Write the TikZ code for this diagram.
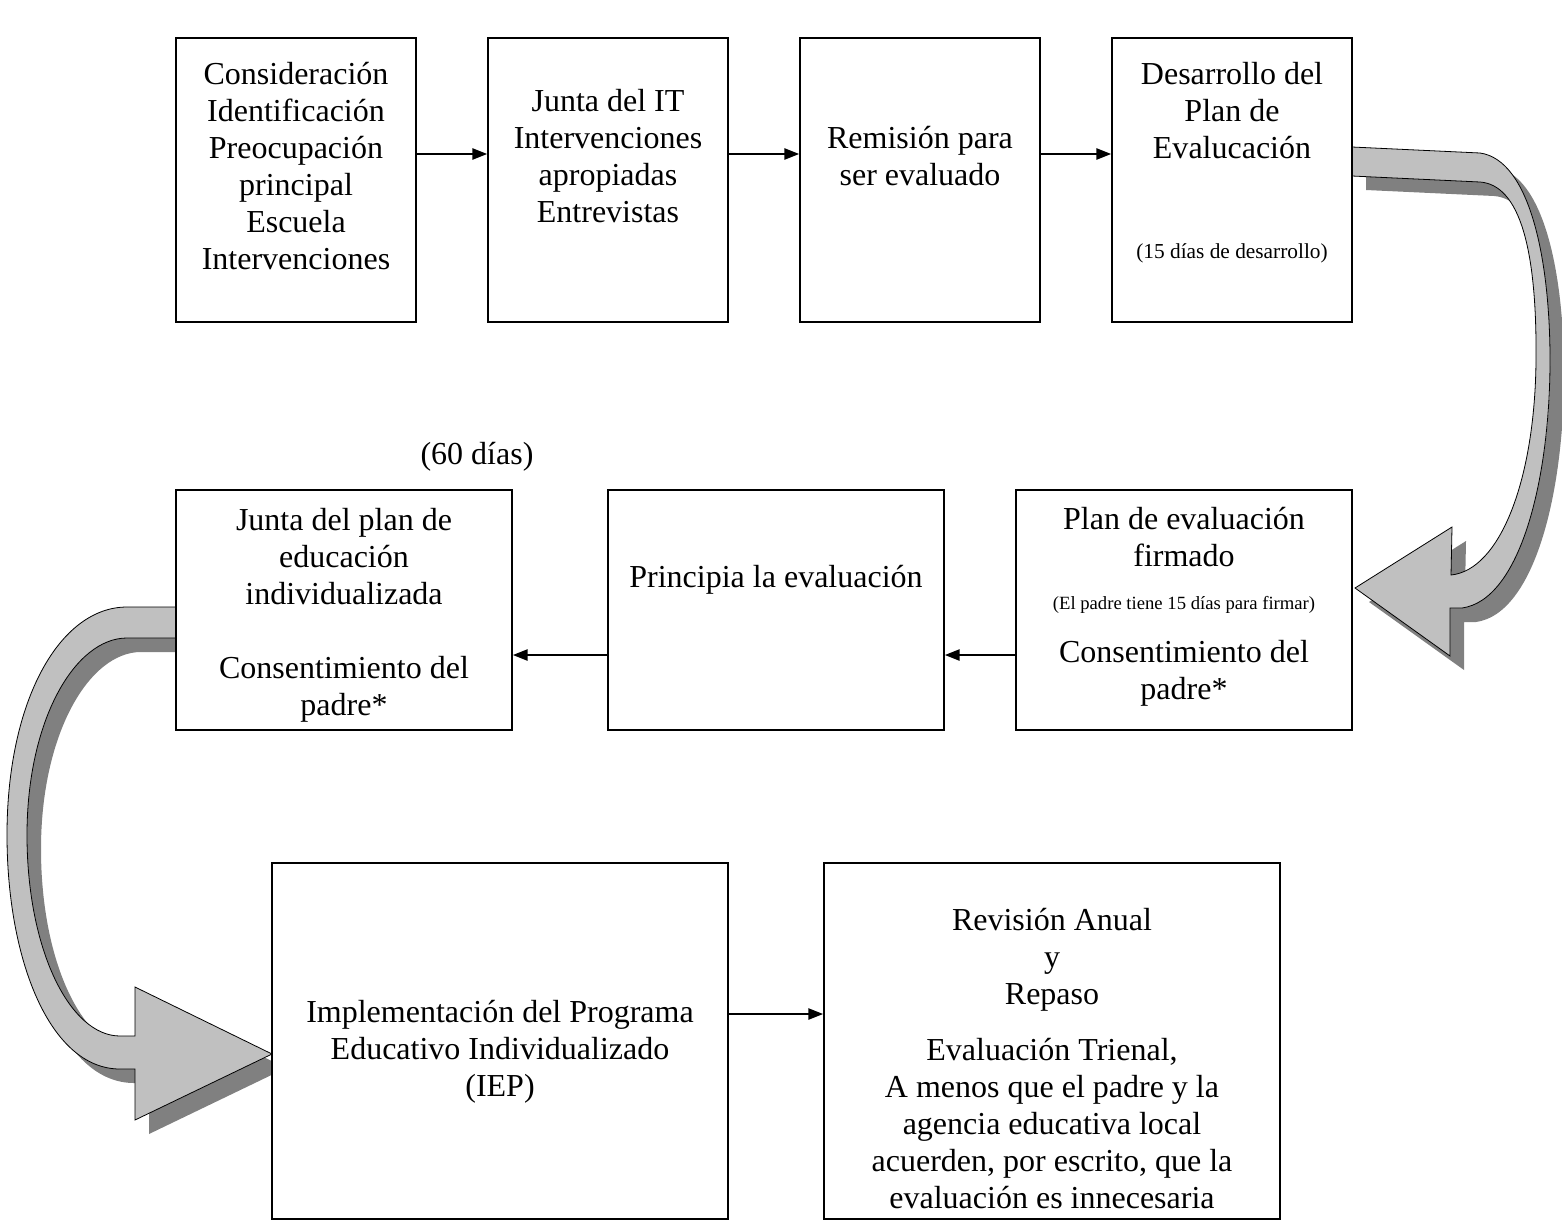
\documentclass[tikz,border=0pt]{standalone}
\usepackage{fontspec}
\setmainfont{Liberation Serif}
\usetikzlibrary{arrows.meta,fit}
\definecolor{bandgray}{HTML}{C0C0C0}
\definecolor{shadowgray}{HTML}{808080}
\begin{document}
\begin{tikzpicture}[x=0.75pt,y=-0.75pt,
  box/.style={draw, line width=1.4pt, fill=white, inner sep=0pt},
  txt/.style={align=center, inner sep=0pt, anchor=north, font=\fontsize{24pt}{27.75pt}\selectfont},
  smalltxt/.style={inner sep=0pt, anchor=base, font=\fontsize{16pt}{19pt}\selectfont},
  tinytxt/.style={inner sep=0pt, anchor=base, font=\fontsize{14pt}{17pt}\selectfont},
  conn/.style={line width=1pt, -{Triangle[length=11pt,width=8.5pt]}},
  band/.style={fill=bandgray, draw=black, line width=0.6pt},
  bandshadow/.style={fill=shadowgray, draw=none}
]
\useasboundingbox (0,0) rectangle (1562,1228);

% ---------- curved arrow shapes ----------
\def\rightarrowpath{(1352,147) -- (1480,153) .. controls (1530,160) and (1550,260) .. (1550,360)
  .. controls (1550,480) and (1520,600) .. (1462,608) -- (1450,608) -- (1450,656) -- (1355,588)
  -- (1452,527) -- (1451,575) .. controls (1500,570) and (1535,480) .. (1536,360)
  .. controls (1537,250) and (1520,185) .. (1480,182) -- (1352,176) -- cycle}
\def\leftarrowpath{(176,607) -- (127,607) .. controls (60,607) and (7,700) .. (7,835)
  .. controls (7,960) and (50,1069) .. (120,1069) -- (135,1069) -- (135,1120) -- (272,1054)
  -- (135,987) -- (135,1036) -- (120,1036) .. controls (70,1036) and (27,950) .. (27,835)
  .. controls (27,720) and (75,638) .. (127,638) -- (176,638) -- cycle}

\begin{scope}[shift={(14,14)}]
  \path[bandshadow] \rightarrowpath;
  \path[bandshadow] \leftarrowpath;
\end{scope}
\path[band] \rightarrowpath;
\path[band] \leftarrowpath;

% ---------- boxes ----------
\node[box, fit={(176,38) (416,322)}] (A) {};
\node[box, fit={(488,38) (728,322)}] (B) {};
\node[box, fit={(800,38) (1040,322)}] (C) {};
\node[box, fit={(1112,38) (1352,322)}] (D) {};
\node[box, fit={(176,490) (512,730)}] (E) {};
\node[box, fit={(608,490) (944,730)}] (F) {};
\node[box, fit={(1016,490) (1352,730)}] (G) {};
\node[box, fit={(272,863) (728,1219)}] (H) {};
\node[box, fit={(824,863) (1280,1219)}] (I) {};

% ---------- texts ----------
\node[txt] (At) at (296,58) {\strut Consideración\\Identificación\\Preocupación\\principal\\Escuela\\Intervenciones};
\node[txt] (Bt) at (608,85) {\strut Junta del IT\\Intervenciones\\apropiadas\\Entrevistas};
\node[txt] (Ct) at (920,122) {\strut Remisión para\\ser evaluado};
\node[txt] (Dt) at (1232,58) {\strut Desarrollo del\\Plan de\\Evalucación};
\node[smalltxt] (Ds) at (1232,258) {(15 días de desarrollo)};

\node[txt] (sixty) at (477,438) {\strut (60 días)};
\node[txt] (Et) at (344,504) {\strut Junta del plan de\\educación\\individualizada\\\mbox{}\\Consentimiento del\\padre*};
\node[txt] (Ft) at (776,561) {\strut Principia la evaluación};
\node[txt] (Gt) at (1184,503) {\strut Plan de evaluación\\firmado};
\node[tinytxt] (Gs) at (1184,609) {(El padre tiene 15 días para firmar)};
\node[txt] (Gu) at (1184,636) {\strut Consentimiento del\\padre*};

\node[txt] (Ht) at (500,996) {\strut Implementación del Programa\\Educativo Individualizado\\(IEP)};
\node[txt] (It) at (1052,904) {\strut Revisión Anual\\y\\Repaso};
\node[txt] (Iu) at (1052,1034) {\strut Evaluación Trienal,\\A menos que el padre y la\\agencia educativa local\\acuerden, por escrito, que la\\evaluación es innecesaria};

% ---------- connectors ----------
\coordinate (r1) at (0,154);
\coordinate (r2) at (0,655);
\coordinate (r3) at (0,1014);
\draw[conn] (A.east |- r1) -- (B.west |- r1);
\draw[conn] (B.east |- r1) -- (C.west |- r1);
\draw[conn] (C.east |- r1) -- (D.west |- r1);
\draw[conn] (G.west |- r2) -- (F.east |- r2);
\draw[conn] (F.west |- r2) -- (E.east |- r2);
\draw[conn] (H.east |- r3) -- (I.west |- r3);
\end{tikzpicture}
\end{document}
